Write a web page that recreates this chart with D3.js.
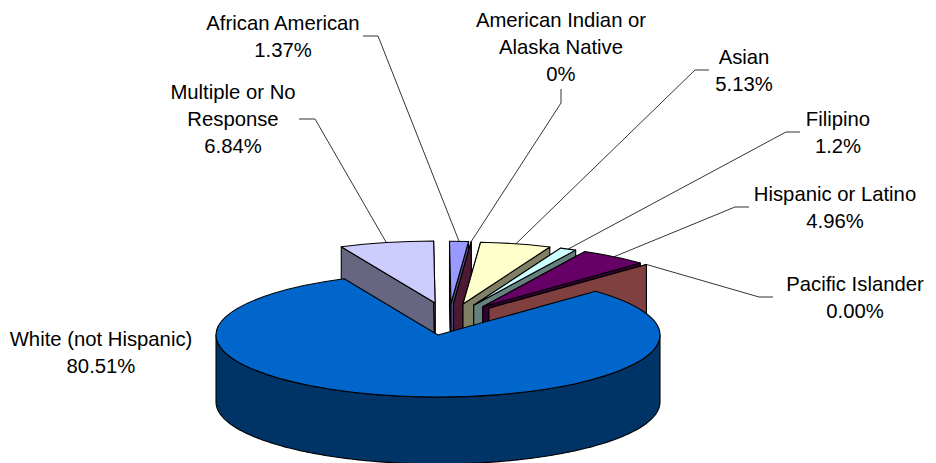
<!DOCTYPE html>
<html>
<head>
<meta charset="utf-8">
<script src="https://cdn.jsdelivr.net/npm/d3@7"></script>
<style>
  html, body { margin: 0; padding: 0; background: #fff; }
  text { font-family: "Liberation Sans", Arial, sans-serif; font-size: 20.3px; fill: #000; }
</style>
</head>
<body>
<div id="chart"></div>
<script>
// data, in slice order, clockwise
const categories = ["Multiple or No Response", "African American", "American Indian or Alaska Native",
    "Asian", "Filipino", "Hispanic or Latino", "Pacific Islander", "White (not Hispanic)"];
const values = [6.84, 1.37, 0, 5.13, 1.2, 4.96, 0, 80.51];
const valueLabels = ["6.84%", "1.37%", "0%", "5.13%", "1.2%", "4.96%", "0.00%", "80.51%"];
const nameLines = [["Multiple or No", "Response"], ["African American"], ["American Indian or", "Alaska Native"],
    ["Asian"], ["Filipino"], ["Hispanic or Latino"], ["Pacific Islander"], ["White (not Hispanic)"]];
const colors = ["#CCCCFF", "#9999FF", "#993366", "#FFFFCC", "#CCFFFF", "#660066", "#FF8080", "#0066CC"];

// label placement: text centre, first line baseline, leader elbow and leader start
const labelPos = [
    { x: 233, y: 99, elbow: [315, 119], from: [299, 119] },
    { x: 283, y: 30, elbow: [378, 36], from: [363, 36] },
    { x: 561, y: 27, elbow: [561, 103], from: [561, 89] },
    { x: 744, y: 64, elbow: [695, 70], from: [709, 70] },
    { x: 838, y: 126, elbow: [786, 132], from: [800, 132] },
    { x: 835, y: 201, elbow: [735, 207], from: [749, 207] },
    { x: 855, y: 291, elbow: [759, 297], from: [773, 297] },
    { x: 101, y: 346 }
];

const width = 936, height = 463;
const cx = 438, cy = 335, rx = 222, ry = 62, depth = 67;
const rad = Math.PI / 180;

const svg = d3.select("#chart").append("svg")
    .attr("width", width)
    .attr("height", height)
    .style("display", "block");

const pie = d3.pie().sort(null).value(d => d)
    .startAngle(-25 * rad)
    .endAngle(335 * rad);
const slices = pie(values);

// flat circle of radius rx, squashed to the ellipse by a transform
const arc = d3.arc().innerRadius(0).outerRadius(rx);

const onRim = (a) => [rx * Math.sin(a), -ry * Math.cos(a)];

// half brightness for the side walls, like the old Excel 3D pies
function shade(c) {
    const r = d3.rgb(c);
    return d3.rgb(r.r / 2, r.g / 2, r.b / 2).formatHex();
}

// pulled out slices move up and to the right, depending on their mid angle
function explode(d) {
    const mid = (d.startAngle + d.endAngle) / 2;
    return [62 * Math.sin(mid + 10 * rad), -(20 + 12 * Math.cos(mid + 10 * rad))];
}

function wall(g, ox, oy, angle, fill) {
    const p = onRim(angle);
    g.append("path")
        .attr("d", `M${ox},${oy}L${ox + p[0]},${oy + p[1]}L${ox + p[0]},${oy + p[1] + depth}L${ox},${oy + depth}Z`)
        .attr("fill", fill)
        .attr("stroke", "#000")
        .attr("stroke-width", 1.1)
        .attr("stroke-linejoin", "round");
}

function face(g, d, ox, oy, fill) {
    g.append("path")
        .attr("d", arc(d))
        .attr("transform", `translate(${ox},${oy}) scale(1,${ry / rx})`)
        .attr("fill", fill)
        .attr("stroke", "#000")
        .attr("stroke-width", 1.1)
        .attr("stroke-linejoin", "round")
        .attr("vector-effect", "non-scaling-stroke");
}

// small slices first, the big one covers their lower part
slices.slice(0, -1).forEach((d, i) => {
    const [dx, dy] = explode(d);
    const g = svg.append("g");
    wall(g, cx + dx, cy + dy, d.startAngle, shade(colors[i]));
    wall(g, cx + dx, cy + dy, d.endAngle, shade(colors[i]));
    if (d.endAngle > d.startAngle) face(g, d, cx + dx, cy + dy, colors[i]);
});

// main slice: front rim wall and then the top
const main = slices[slices.length - 1];
const rimAngles = d3.range(90, 270.5, 1).map(a => a * rad);
const rimLine = d3.line().x(a => cx + onRim(a)[0]).y(a => cy + onRim(a)[1]);
const rimBack = d3.line().x(a => cx + onRim(a)[0]).y(a => cy + onRim(a)[1] + depth);
svg.append("path")
    .attr("d", rimLine(rimAngles) + "L" + rimBack(rimAngles.slice().reverse()).slice(1) + "Z")
    .attr("fill", shade(colors[7]))
    .attr("stroke", "#000")
    .attr("stroke-width", 1.1);
face(svg.append("g"), main, cx, cy, colors[7]);

// leaders, from the elbow to the middle of the slice rim
const lineGen = d3.line();
slices.forEach((d, i) => {
    const pos = labelPos[i];
    if (!pos.elbow) return;
    const [dx, dy] = explode(d);
    const p = onRim((d.startAngle + d.endAngle) / 2);
    svg.append("path")
        .attr("d", lineGen([pos.from, pos.elbow, [cx + dx + p[0], cy + dy + p[1]]]))
        .attr("fill", "none")
        .attr("stroke", "#000")
        .attr("stroke-width", 0.8);
});

// labels
categories.forEach((name, i) => {
    const t = svg.append("text")
        .attr("data-category", name)
        .attr("text-anchor", "middle")
        .attr("x", labelPos[i].x)
        .attr("y", labelPos[i].y);
    nameLines[i].concat(valueLabels[i]).forEach((line, j) => {
        t.append("tspan")
            .attr("x", labelPos[i].x)
            .attr("dy", j ? 27 : 0)
            .text(line);
    });
});
</script>
</body>
</html>
